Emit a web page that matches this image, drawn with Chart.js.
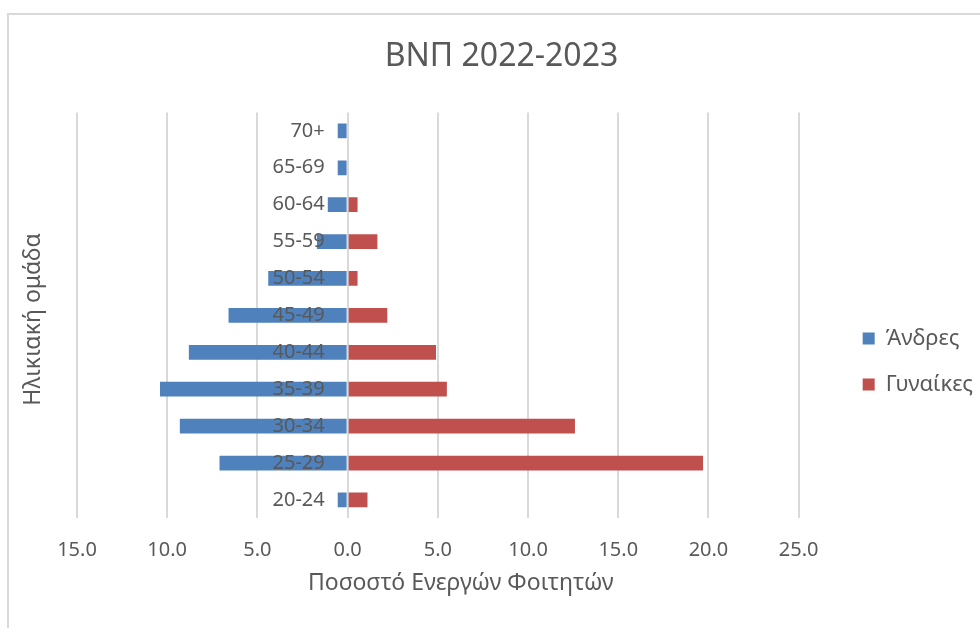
<!DOCTYPE html>
<html>
<head>
<meta charset="utf-8">
<title>ΒΝΠ 2022-2023</title>
<script src="https://cdn.jsdelivr.net/npm/chart.js@4.4.1/dist/chart.umd.min.js"></script>
<style>
  html, body { margin: 0; padding: 0; background: #fff; overflow: hidden; }
  #frame { position: absolute; left: 7px; top: 13px; width: 1200px; height: 800px; border: 2px solid #d9d9d9; }
  #wrap { position: absolute; left: 0; top: 0; width: 980px; height: 628px; }
</style>
</head>
<body>
<div id="frame"></div>
<div id="wrap"><canvas id="pyramid"></canvas></div>
<script>
// age groups, youngest first (drawn bottom to top)
const ageGroups = ["20-24", "25-29", "30-34", "35-39", "40-44", "45-49", "50-54", "55-59", "60-64", "65-69", "70+"];
// men are plotted to the left of zero, so stored negative
const menValues = [-0.55, -7.1, -9.3, -10.4, -8.8, -6.6, -4.4, -1.7, -1.1, -0.55, -0.55];
const womenValues = [1.1, 19.7, 12.6, 5.5, 4.9, 2.2, 0.55, 1.65, 0.55, 0, 0];
const seriesNames = ["Άνδρες", "Γυναίκες"];
const xTicks = [-15, -10, -5, 0, 5, 10, 15, 20, 25];

const textColor = "#595959";
const fontFamily = "'Noto Sans', 'DejaVu Sans', sans-serif";

Chart.defaults.font.family = fontFamily;
Chart.defaults.color = textColor;

// rotated title for the vertical axis, the axis itself sits on zero
const yTitlePlugin = {
    id: "yTitle",
    afterDraw(chart) {
        const ctx = chart.ctx;
        const area = chart.chartArea;
        ctx.save();
        ctx.translate(33, (area.top + area.bottom) / 2 + 4);
        ctx.rotate(-Math.PI / 2);
        ctx.font = "23px " + fontFamily;
        ctx.fillStyle = textColor;
        ctx.textAlign = "center";
        ctx.textBaseline = "middle";
        ctx.fillText("Ηλικιακή ομάδα", 0, 0);
        ctx.restore();
    }
};

new Chart(document.getElementById("pyramid"), {
    type: "bar",
    data: {
        labels: ageGroups,
        datasets: [{
            label: seriesNames[0],
            data: menValues,
            backgroundColor: "#4f81bd",
            barPercentage: 0.4,
            categoryPercentage: 1
        }, {
            label: seriesNames[1],
            data: womenValues,
            backgroundColor: "#c0504d",
            barPercentage: 0.4,
            categoryPercentage: 1
        }]
    },
    options: {
        indexAxis: "y",
        responsive: true,
        maintainAspectRatio: false,
        animation: false,
        layout: {
            padding: { left: 20, right: -3, top: 0, bottom: 31 }
        },
        scales: {
            x: {
                stacked: true,
                min: -15,
                max: 25,
                afterBuildTicks(scale) {
                    scale.ticks = xTicks.map(v => ({ value: v }));
                },
                grid: { color: "#d9d9d9", lineWidth: 2, drawTicks: false },
                border: { display: false },
                ticks: {
                    padding: 20,
                    font: { size: 20 },
                    color: textColor,
                    callback: v => Math.abs(v).toFixed(1)
                },
                title: {
                    display: true,
                    // leading spaces nudge the title right of the plot centre
                    text: "\u2002\u2002\u2002\u2002Ποσοστό Ενεργών Φοιτητών",
                    font: { size: 23 },
                    color: textColor,
                    padding: { top: -13, bottom: 0 }
                }
            },
            y: {
                stacked: true,
                reverse: true,
                // labels end a little left of zero, like the original
                position: { x: -1.27 },
                grid: { display: false, drawTicks: false },
                border: { display: false },
                ticks: {
                    z: 1,
                    font: { size: 20 },
                    color: textColor
                }
            },
            gapLeft: {
                type: "category",
                position: "left",
                grid: { display: false, drawTicks: false },
                border: { display: false },
                ticks: { display: false },
                afterFit(scale) { scale.width = 57; }
            },
            gapRight: {
                type: "category",
                position: "right",
                grid: { display: false, drawTicks: false },
                border: { display: false },
                ticks: { display: false },
                afterFit(scale) { scale.width = 40; }
            }
        },
        plugins: {
            title: {
                display: true,
                text: "ΒΝΠ 2022-2023",
                font: { size: 32, weight: "normal" },
                color: textColor,
                padding: { top: 38, bottom: 36 }
            },
            legend: {
                position: "right",
                maxWidth: 200,
                title: { display: true, text: " ", padding: 51, font: { size: 20 } },
                labels: {
                    boxWidth: 12,
                    boxHeight: 12,
                    padding: 24,
                    font: { size: 22 },
                    color: textColor
                }
            },
            tooltip: { enabled: false }
        }
    },
    plugins: [yTitlePlugin]
});
</script>
</body>
</html>
